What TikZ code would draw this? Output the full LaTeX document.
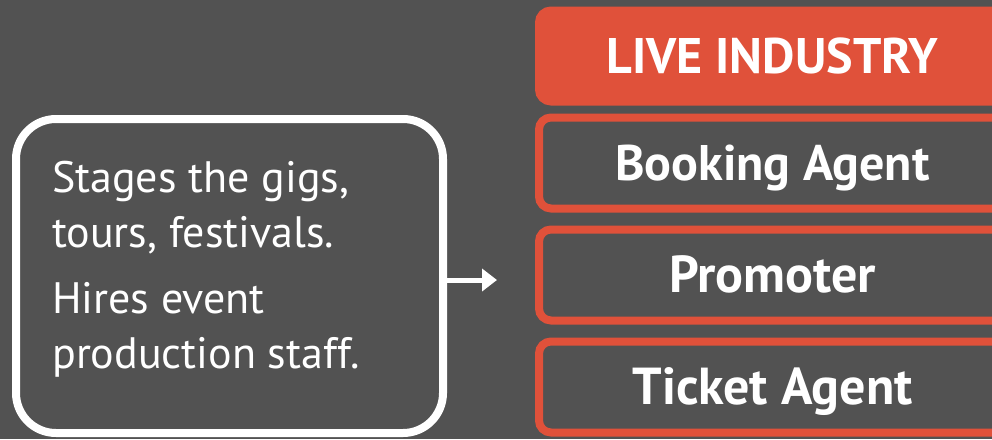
\documentclass[tikz,border=0pt]{standalone}
\usepackage{fontspec}
\setmainfont{PT Sans}
\usetikzlibrary{positioning, arrows.meta}
\definecolor{slateGrey}{RGB}{82,82,82}
\definecolor{liveRed}{RGB}{224,81,58}

\begin{document}
\begin{tikzpicture}[x=1pt, y=-1pt,
	roleBox/.style={draw=liveRed, line width=8pt, rounded corners=12pt, minimum width=467pt, minimum height=91pt, inner sep=0pt, text height=35pt, text depth=0pt, text=white, font=\fontsize{52}{60}\selectfont\bfseries},
	stageBox/.style={draw=white, line width=8pt, rounded corners=40pt, minimum width=427pt, minimum height=314pt},
	stageText/.style={inner sep=0pt, align=left, text=white, font=\fontsize{44}{55}\selectfont},
	feedArrow/.style={draw=white, line width=5pt, -{Triangle[length=15pt, width=22pt]}}]

% Background and page size.

	\fill[slateGrey] (0,0) rectangle (992,439);
	\useasboundingbox (0,0) rectangle (992,439);

% Define coordinates.

	\coordinate (stageCentre) at (229.5, 276);
	\coordinate (liveCentre) at (772.5, 56);
	\coordinate (arrowTip) at (497, 280);

% Left box.

	\node[stageBox] (stage) at (stageCentre) {};
	\node[stageText, anchor=north west] (stageNote) at (52, 161) {Stages the gigs,\\tours, festivals.\\[11pt]Hires event\\production staff.};

% Right boxes.

	\node[roleBox, fill=liveRed, font=\fontsize{50}{60}\selectfont\bfseries] (live) at (liveCentre) {LIVE INDUSTRY};
	\node[roleBox, below=8pt of live, font=\fontsize{50}{60}\selectfont\bfseries] (booking) {Booking Agent};
	\node[roleBox, below=13pt of booking] (promoter) {Promoter};
	\node[roleBox, below=13pt of promoter] (ticket) {Ticket Agent};

% Draw arrow.

	\draw[feedArrow] (stage.east |- arrowTip) -- (arrowTip);

\end{tikzpicture}
\end{document}
